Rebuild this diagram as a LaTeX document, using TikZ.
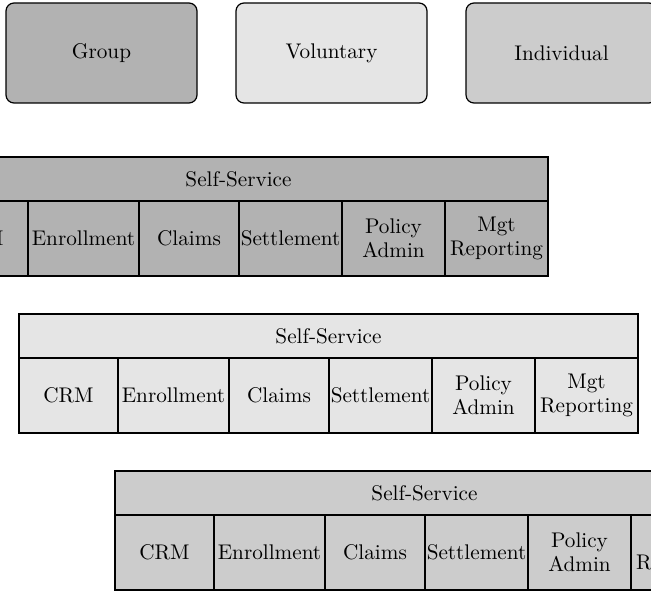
\documentclass[tikz,border=0pt]{standalone}
\usepackage{tikz}
\usetikzlibrary{positioning}
\definecolor{groupgray}{gray}{0.70}
\definecolor{volgray}{gray}{0.90}
\definecolor{indgray}{gray}{0.80}
\tikzstyle{plan} = [rectangle, rounded corners=4pt, minimum width=95.5pt, minimum height=50pt, text centered, draw=black, line width=0.6pt, outer sep=0pt]
\tikzstyle{bar} = [rectangle, minimum width=309.5pt, minimum height=22pt, text centered, draw=black, line width=0.6pt, outer sep=0pt]
\tikzstyle{cell} = [rectangle, minimum height=37.5pt, inner sep=0.4pt, align=center, draw=black, line width=0.6pt, outer sep=0pt]

\begin{document}
\begin{tikzpicture}[font=\fontsize{10.6}{12}\selectfont]
\clip (0,0) rectangle (325.5pt,-296pt);

% Plans
\node (group) [plan, fill=groupgray, anchor=north west] at (3pt,-1.5pt) {Group};
\node (voluntary) [plan, fill=volgray, right=19.5pt of group] {Voluntary};
\node (individual) [plan, fill=indgray, right=19.5pt of voluntary] {Individual};

% Group row
\node (gss) [bar, fill=groupgray, anchor=north west] at (-35.5pt,-78.5pt) {Self-Service};
\node (gcrm) [cell, fill=groupgray, minimum width=49.5pt, anchor=north west] at (gss.south west) {CRM};
\node (genr) [cell, fill=groupgray, minimum width=55.5pt, right=0pt of gcrm] {Enrollment};
\node (gclm) [cell, fill=groupgray, minimum width=50pt, right=0pt of genr] {Claims};
\node (gset) [cell, fill=groupgray, minimum width=51.5pt, right=0pt of gclm] {Settlement};
\node (gpol) [cell, fill=groupgray, minimum width=51.5pt, right=0pt of gset] {Policy\\Admin};
\node (gmgt) [cell, fill=groupgray, minimum width=51.5pt, right=0pt of gpol] {Mgt\\Reporting};

% Voluntary row
\node (vss) [bar, fill=volgray, anchor=north west] at (9.5pt,-157pt) {Self-Service};
\node (vcrm) [cell, fill=volgray, minimum width=49.5pt, anchor=north west] at (vss.south west) {CRM};
\node (venr) [cell, fill=volgray, minimum width=55.5pt, right=0pt of vcrm] {Enrollment};
\node (vclm) [cell, fill=volgray, minimum width=50pt, right=0pt of venr] {Claims};
\node (vset) [cell, fill=volgray, minimum width=51.5pt, right=0pt of vclm] {Settlement};
\node (vpol) [cell, fill=volgray, minimum width=51.5pt, right=0pt of vset] {Policy\\Admin};
\node (vmgt) [cell, fill=volgray, minimum width=51.5pt, right=0pt of vpol] {Mgt\\Reporting};

% Individual row
\node (iss) [bar, fill=indgray, anchor=north west] at (57.5pt,-235.5pt) {Self-Service};
\node (icrm) [cell, fill=indgray, minimum width=49.5pt, anchor=north west] at (iss.south west) {CRM};
\node (ienr) [cell, fill=indgray, minimum width=55.5pt, right=0pt of icrm] {Enrollment};
\node (iclm) [cell, fill=indgray, minimum width=50pt, right=0pt of ienr] {Claims};
\node (iset) [cell, fill=indgray, minimum width=51.5pt, right=0pt of iclm] {Settlement};
\node (ipol) [cell, fill=indgray, minimum width=51.5pt, right=0pt of iset] {Policy\\Admin};
\node (imgt) [cell, fill=indgray, minimum width=51.5pt, right=0pt of ipol] {Mgt\\Reporting};

\end{tikzpicture}
\end{document}
